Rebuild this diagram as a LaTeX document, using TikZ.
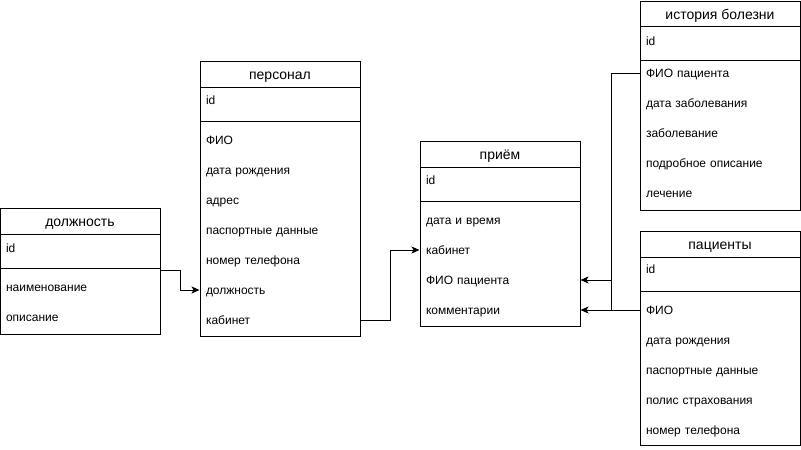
\documentclass[tikz,border=0pt]{standalone}
\usepackage{fontspec}
\setmainfont{Liberation Sans}
\usetikzlibrary{arrows.meta}

\begin{document}
\begin{tikzpicture}[x=1pt, y=-1pt, line width=1pt,
    font=\fontsize{12}{14}\selectfont,
    box/.style={draw, minimum width=160pt, inner sep=0pt},
    title/.style={inner sep=0pt, font=\fontsize{14}{16}\selectfont, text height=10pt, text depth=0pt},
    field/.style={inner xsep=6pt, inner ysep=0pt, text width=148pt, align=left, text height=8.6pt, text depth=0pt},
    arr/.style={-{Stealth[length=8pt, width=7pt, inset=2pt]}}]
    \useasboundingbox (0,0) rectangle (801,450);
    \node[box, minimum height=126pt] (dolzh) at (80,271) {};
    \node[box, minimum height=275pt] (pers) at (280,198.5) {};
    \node[box, minimum height=185pt] (priem) at (500,233.5) {};
    \node[box, minimum height=209pt] (hist) at (720,105.5) {};
    \node[box, minimum height=214pt] (pac) at (720,338) {};
    \draw (dolzh.west |- 0,234) -- (dolzh.east |- 0,234);
    \draw (dolzh.west |- 0,268) -- (dolzh.east |- 0,268);
    \draw (pers.west |- 0,87) -- (pers.east |- 0,87);
    \draw (pers.west |- 0,121) -- (pers.east |- 0,121);
    \draw (priem.west |- 0,167) -- (priem.east |- 0,167);
    \draw (priem.west |- 0,201) -- (priem.east |- 0,201);
    \draw (hist.west |- 0,26) -- (hist.east |- 0,26);
    \draw (hist.west |- 0,60) -- (hist.east |- 0,60);
    \draw (pac.west |- 0,257) -- (pac.east |- 0,257);
    \draw (pac.west |- 0,291) -- (pac.east |- 0,291);
    \node[title] (dolzh-t) at (80,221) {должность};
    \node[field] (d-id) at (80,248) {id};
    \node[field] (d-name) at (80,287) {наименование};
    \node[field] (d-desc) at (80,317) {описание};
    \node[title] (pers-t) at (280,74) {персонал};
    \node[field] (p-id) at (280,100) {id};
    \node[field] (p-fio) at (280,140) {ФИО};
    \node[field] (p-birth) at (280,170) {дата рождения};
    \node[field] (p-addr) at (280,200) {адрес};
    \node[field] (p-pass) at (280,230) {паспортные данные};
    \node[field] (p-tel) at (280,260) {номер телефона};
    \node[field] (p-dolzh) at (280,290) {должность};
    \node[field] (p-kab) at (280,320) {кабинет};
    \node[title] (priem-t) at (500,154) {приём};
    \node[field] (pr-id) at (500,180) {id};
    \node[field] (pr-date) at (500,220) {дата и время};
    \node[field] (pr-kab) at (500,250) {кабинет};
    \node[field] (pr-fio) at (500,280) {ФИО пациента};
    \node[field] (pr-komm) at (500,310) {комментарии};
    \node[title] (hist-t) at (720,14) {история болезни};
    \node[field] (h-id) at (720,41) {id};
    \node[field] (h-fio) at (720,73) {ФИО пациента};
    \node[field] (h-date) at (720,103) {дата заболевания};
    \node[field] (h-dis) at (720,133) {заболевание};
    \node[field] (h-desc) at (720,163) {подробное описание};
    \node[field] (h-cure) at (720,193) {лечение};
    \node[title] (pac-t) at (720,244) {пациенты};
    \node[field] (pc-id) at (720,269) {id};
    \node[field] (pc-fio) at (720,310) {ФИО};
    \node[field] (pc-birth) at (720,340) {дата рождения};
    \node[field] (pc-pass) at (720,370) {паспортные данные};
    \node[field] (pc-polis) at (720,400) {полис страхования};
    \node[field] (pc-tel) at (720,430) {номер телефона};
    \coordinate (dolzh-out) at (160,270);
    \draw [arr] (dolzh-out) -- ++(20,0) |- (p-dolzh.west);
    \draw [arr] (p-kab.east) -- ++(30,0) |- (pr-kab.west);
    \draw [arr] (h-fio.west) -- ++(-28,0) |- (pr-komm.east);
    \draw [arr] (pc-fio.west) -- ++(-28,0) |- (pr-fio.east);
\end{tikzpicture}
\end{document}
